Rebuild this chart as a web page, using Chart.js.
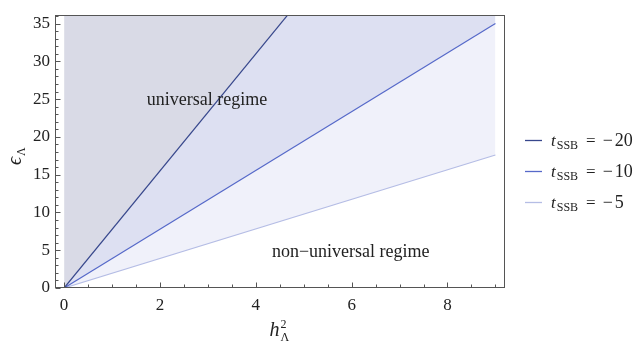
<!DOCTYPE html>
<html><head><meta charset="utf-8">
<script src="https://cdn.jsdelivr.net/npm/chart.js@4/dist/chart.umd.min.js"></script>
<style>html,body{margin:0;padding:0;background:#fff;}#wrap{position:relative;width:642px;height:348px;}</style>
</head><body><div id="wrap"><canvas id="c" width="642" height="348"></canvas></div>
<script>
// ---- data ----
const hSquared = [0, 9];
const epsT20 = [0, 69.7];
const epsT10 = [0, 35.0];
const epsT5 = [0, 17.6];
const tValues = [-20, -10, -5];
const xTickLabels = [0, 2, 4, 6, 8];
const yTickLabels = [0, 5, 10, 15, 20, 25, 30, 35];
const xMinorTicks = [0.5, 1, 1.5, 2.5, 3, 3.5, 4.5, 5, 5.5, 6.5, 7, 7.5, 8.5, 9];
const yMinorTicks = [1, 2, 3, 4, 6, 7, 8, 9, 11, 12, 13, 14, 16, 17, 18, 19, 21, 22, 23, 24, 26, 27, 28, 29, 31, 32, 33, 34, 36];
const regionLabels = ["universal regime", "non\u2212universal regime"];

const SERIF = '"Liberation Serif", "DejaVu Serif", serif';
const lineColors = ['#37478c', '#5669c9', '#b5bde5'];
const fillColors = ['#d9dae6', '#dde0f2', '#f0f1fa'];

function pts(ys) { return hSquared.map((h, i) => ({ x: h, y: ys[i] })); }

const decor = {
  id: 'decor',
  afterDraw(chart) {
    const ctx = chart.ctx, a = chart.chartArea;
    const xs = chart.scales.x, ys = chart.scales.y;
    ctx.save();
    // frame
    ctx.strokeStyle = '#555'; ctx.lineWidth = 1;
    ctx.strokeRect(Math.round(a.left) + 0.5, Math.round(a.top) + 0.5, Math.round(a.right - a.left) - 1, Math.round(a.bottom - a.top) - 1);
    // ticks (inward)
    ctx.beginPath();
    const bottom = Math.round(a.bottom) - 0.5, left = Math.round(a.left) + 0.5;
    xTickLabels.forEach(v => { const p = Math.round(xs.getPixelForValue(v)) + 0.5; ctx.moveTo(p, bottom); ctx.lineTo(p, bottom - 5); });
    xMinorTicks.forEach(v => { const p = Math.round(xs.getPixelForValue(v)) + 0.5; ctx.moveTo(p, bottom); ctx.lineTo(p, bottom - 3); });
    yTickLabels.forEach(v => { const p = Math.round(ys.getPixelForValue(v)) + 0.5; ctx.moveTo(left, p); ctx.lineTo(left + 5, p); });
    yMinorTicks.forEach(v => { const p = Math.round(ys.getPixelForValue(v)) + 0.5; ctx.moveTo(left, p); ctx.lineTo(left + 3, p); });
    ctx.stroke();
    // region labels
    ctx.fillStyle = '#222';
    ctx.font = '18px ' + SERIF;
    ctx.textAlign = 'center'; ctx.textBaseline = 'middle';
    ctx.fillText(regionLabels[0], xs.getPixelForValue(2.98), ys.getPixelForValue(24.9));
    ctx.fillText(regionLabels[1], xs.getPixelForValue(5.98), ys.getPixelForValue(4.7));
    // x axis title h^2_Λ
    ctx.textAlign = 'left'; ctx.textBaseline = 'alphabetic';
    ctx.font = 'italic 20px ' + SERIF;
    const hw = ctx.measureText('h').width;
    const cx = (a.left + a.right) / 2 - 1;
    const hx = cx - (hw + 9) / 2, hb = 336;
    ctx.fillText('h', hx, hb);
    ctx.font = '12px ' + SERIF;
    ctx.fillText('2', hx + hw + 1, hb - 8);
    ctx.fillText('\u039B', hx + hw + 1, hb + 5);
    // y axis title ϵ_Λ
    ctx.save();
    ctx.translate(21, 157);
    ctx.rotate(-Math.PI / 2);
    ctx.font = 'italic 20px ' + SERIF;
    const ew = ctx.measureText('\u03F5').width;
    ctx.fillText('\u03F5', -(ew + 8) / 2, 0);
    ctx.font = '12px ' + SERIF;
    ctx.fillText('\u039B', -(ew + 8) / 2 + ew + 1, 4);
    ctx.restore();
    // legend
    const rows = [140, 171, 202];
    tValues.forEach((t, i) => {
      const y = rows[i];
      ctx.strokeStyle = lineColors[i]; ctx.lineWidth = 1.3;
      ctx.beginPath(); ctx.moveTo(525, y + 0.5); ctx.lineTo(542, y + 0.5); ctx.stroke();
      let x = 551; const base = y + 6;
      ctx.fillStyle = '#222';
      ctx.font = 'italic 17px ' + SERIF; ctx.fillText('t', x, base); x += ctx.measureText('t').width + 1;
      ctx.font = '12px ' + SERIF; ctx.fillText('SSB', x, base + 3); x += ctx.measureText('SSB').width + 8;
      ctx.font = '17px ' + SERIF; ctx.fillText('=', x, base); x += ctx.measureText('=').width + 7;
      ctx.font = '18px ' + SERIF;
      ctx.fillText('\u2212', x, base); x += ctx.measureText('\u2212').width + 2;
      ctx.fillText(String(Math.abs(t)), x, base);
    });
    ctx.restore();
  }
};

new Chart(document.getElementById('c'), {
  type: 'line',
  data: {
    datasets: [
      { label: 't_SSB = -20', data: pts(epsT20), borderColor: lineColors[0], backgroundColor: fillColors[0], fill: 'end', borderWidth: 1.2, pointRadius: 0, tension: 0 },
      { label: 't_SSB = -10', data: pts(epsT10), borderColor: lineColors[1], backgroundColor: fillColors[1], fill: '-1', borderWidth: 1.2, pointRadius: 0, tension: 0 },
      { label: 't_SSB = -5', data: pts(epsT5), borderColor: lineColors[2], backgroundColor: fillColors[2], fill: '-1', borderWidth: 1.2, pointRadius: 0, tension: 0 }
    ]
  },
  options: {
    responsive: false, animation: false,
    layout: { padding: { top: 10, right: 137, left: 0, bottom: 0 } },
    plugins: { legend: { display: false }, tooltip: { enabled: false } },
    scales: {
      x: {
        type: 'linear', min: -0.19, max: 9.2,
        afterBuildTicks: s => { s.ticks = xTickLabels.map(v => ({ value: v })); },
        afterFit: s => { s.height = 60; },
        grid: { display: false, drawTicks: false }, border: { display: false },
        ticks: { font: { family: SERIF, size: 17 }, color: '#222', padding: 7, maxRotation: 0, autoSkip: false }
      },
      y: {
        type: 'linear', min: 0, max: 36.1,
        afterBuildTicks: s => { s.ticks = yTickLabels.map(v => ({ value: v })); },
        afterFit: s => { s.width = 55; },
        grid: { display: false, drawTicks: false }, border: { display: false },
        ticks: { font: { family: SERIF, size: 17 }, color: '#222', padding: 5, autoSkip: false }
      }
    }
  },
  plugins: [decor]
});
</script></body></html>
